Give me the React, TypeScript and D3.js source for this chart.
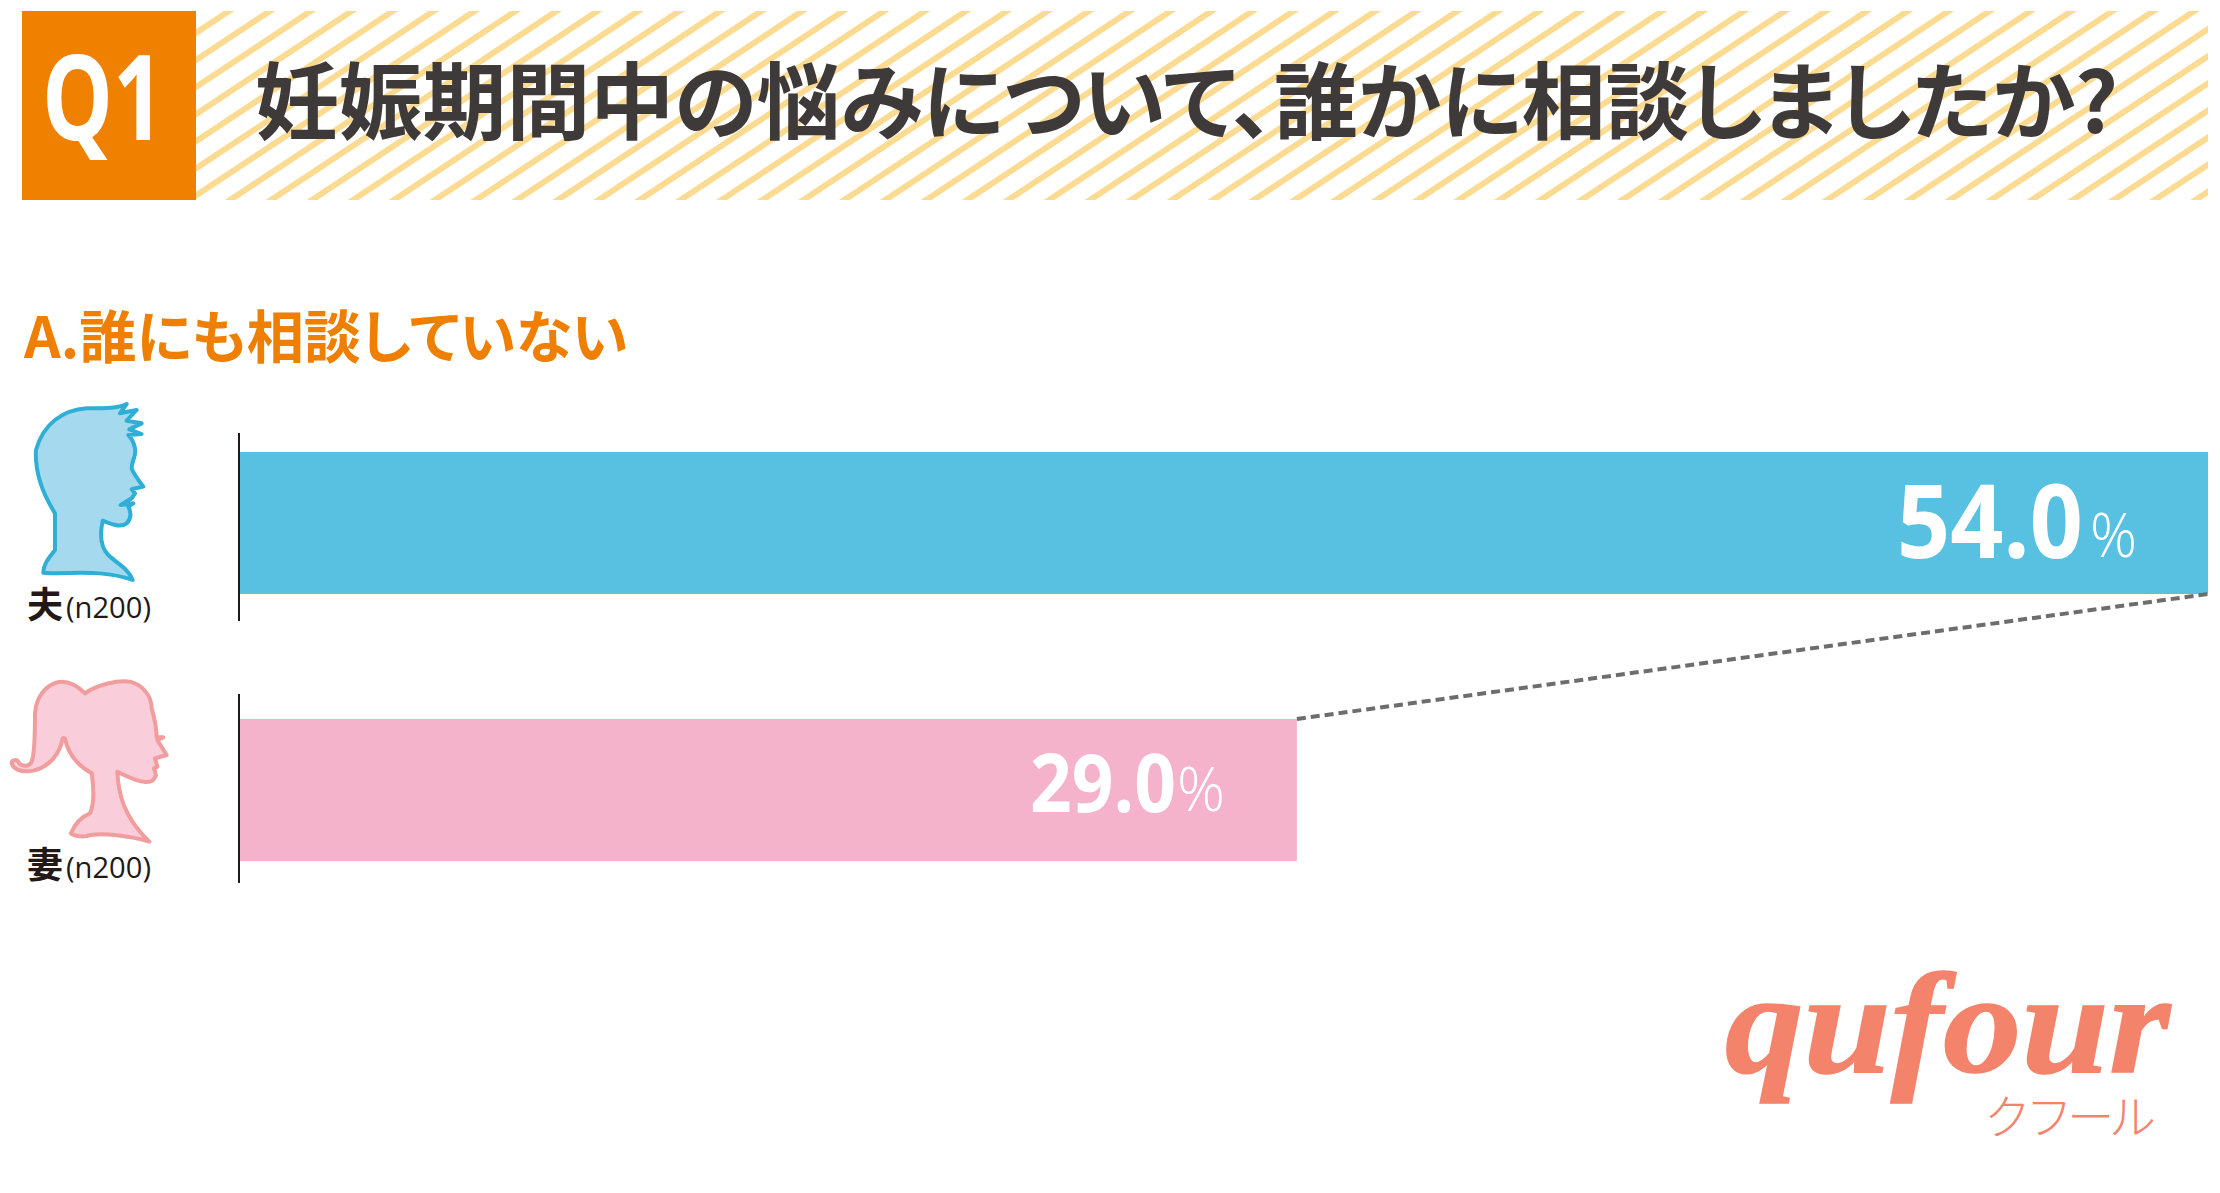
import React from "react";
import * as d3 from "d3";

const WIDTH = 2220;
const HEIGHT = 1193;

const groups = ["夫", "妻"];
const respondents = ["(n200)", "(n200)"];
const shares = [54.0, 29.0];
const barColors = ["#58c1e1", "#f4b3ca"];

const questionTag = "Q1";
const questionText = "妊娠期間中の悩みについて、誰かに相談しましたか?";
const answerText = "A.誰にも相談していない";

const jp = "'Noto Sans CJK JP', 'Noto Sans', sans-serif";
const latin = "'Open Sans', 'Noto Sans', sans-serif";

// silhouettes traced by eye, drawn at 3x and scaled down
const manPath =
  "M380 42 C355 55 320 55 260 55 C190 60 130 100 108 180 C105 230 115 290 165 370 L165 480 C150 500 130 520 130 548 C200 555 300 535 398 570 C385 535 350 520 325 495 C300 470 300 430 308 392 C330 400 360 415 380 400 C395 385 395 370 385 350 L400 340 L362 345 L395 325 L405 310 L395 298 L430 290 C415 270 400 250 395 235 C395 210 410 200 405 175 C400 150 390 140 385 135 L425 132 L388 118 L425 100 L380 92 L410 60 L360 70 Z";
const womanPath =
  "M255 100 C290 75 350 60 390 65 C430 75 455 110 455 145 C465 180 470 210 470 232 L490 232 L472 240 L500 285 L465 295 L472 320 L462 325 L468 345 C460 375 430 375 352 335 C355 400 370 470 448 545 C400 530 300 515 260 528 C240 532 215 525 213 520 C225 490 245 470 270 460 C285 430 280 370 275 340 C240 320 205 290 195 235 L188 235 C180 280 150 320 100 332 C70 338 40 330 35 310 C35 298 50 298 55 305 C60 318 85 325 95 305 C105 280 105 200 105 160 C110 90 160 65 185 65 C215 65 240 85 255 100 Z";

const x = d3.scaleLinear().domain([0, 54]).range([240, 2208]);
const y = d3.scaleBand().domain(groups).range([452, 861]).paddingInner(0.468);

export default function App() {
  const band = y.bandwidth();
  const y0 = y(groups[0]) as number;
  const y1 = y(groups[1]) as number;

  return (
    <svg
      width={WIDTH}
      height={HEIGHT}
      viewBox={`0 0 ${WIDTH} ${HEIGHT}`}
      style={{ position: "absolute", left: 0, top: 0, background: "#fff" }}
    >
      <defs>
        <pattern
          id="stripes"
          patternUnits="userSpaceOnUse"
          width={22.6}
          height={22.6}
          patternTransform="translate(229 11) rotate(-33.5)"
        >
          <rect y={0} width={22.6} height={3} fill="#fbda91" />
          <rect y={19.6} width={22.6} height={3} fill="#fbda91" />
        </pattern>
      </defs>

      {/* header */}
      <rect x={196} y={11} width={2012} height={189} fill="url(#stripes)" />
      <rect x={22} y={11} width={174} height={189} fill="#f08000" />
      <text
        x={42}
        y={140}
        fontFamily={latin}
        fontWeight={700}
        fontSize={119}
        fill="#fff"
        textLength={122}
        lengthAdjust="spacingAndGlyphs"
      >
        {questionTag}
      </text>
      <text
        x={255}
        y={133}
        fontFamily={jp}
        fontWeight={700}
        fontSize={83.8}
        fill="#3e3a39"
        style={{ fontFeatureSettings: "'palt'" }}
      >
        {questionText}
      </text>

      <text
        x={24}
        y={358}
        fontFamily={jp}
        fontWeight={700}
        fontSize={57.2}
        fill="#ee7f00"
        style={{ fontFeatureSettings: "'palt'" }}
      >
        {answerText}
      </text>

      {/* figures */}
      <g transform="translate(0 390) scale(0.3333)">
        <path d={manPath} fill="#a5d9ee" stroke="#2fafd6" strokeWidth={12} strokeLinejoin="round" />
      </g>
      <g transform="translate(0 660) scale(0.3333)">
        <path d={womanPath} fill="#f9cdda" stroke="#f19d9e" strokeWidth={12} strokeLinejoin="round" />
      </g>

      {/* bars */}
      {groups.map((g, i) => {
        const top = y(g) as number;
        return (
          <g key={g}>
            <rect x={x(0)} y={top} width={x(shares[i]) - x(0)} height={band} fill={barColors[i]} />
            <line
              x1={x(0) - 1}
              x2={x(0) - 1}
              y1={top - (i === 0 ? 19 : 25)}
              y2={top + band + (i === 0 ? 27 : 22)}
              stroke="#231815"
              strokeWidth={2}
            />
            <text x={27} y={top + band + (i === 0 ? 24 : 17)} fontFamily={jp} fontWeight={700} fontSize={36} fill="#231815">
              {g}
            </text>
            <text
              x={66}
              y={top + band + (i === 0 ? 24 : 17)}
              fontFamily={latin}
              fontWeight={400}
              fontSize={30}
              fill="#231815"
              textLength={85}
              lengthAdjust="spacingAndGlyphs"
            >
              {respondents[i]}
            </text>
          </g>
        );
      })}

      <line
        x1={x(shares[1])}
        y1={y1}
        x2={x(shares[0])}
        y2={y0 + band}
        stroke="#6d6d6d"
        strokeWidth={4}
        strokeDasharray="9 5"
      />

      {/* value labels */}
      <text x={1897} y={558} fontFamily={latin} fontWeight={700} fontSize={102} fill="#fff" textLength={186} lengthAdjust="spacingAndGlyphs">
        {shares[0].toFixed(1)}
      </text>
      <text x={2090} y={557} fontFamily={latin} fontWeight={300} fontSize={60} fill="#fff" textLength={47} lengthAdjust="spacingAndGlyphs">
        %
      </text>
      <text x={1030} y={812} fontFamily={latin} fontWeight={700} fontSize={81} fill="#fff" textLength={146} lengthAdjust="spacingAndGlyphs">
        {shares[1].toFixed(1)}
      </text>
      <text x={1177} y={811} fontFamily={latin} fontWeight={300} fontSize={60} fill="#fff" textLength={48} lengthAdjust="spacingAndGlyphs">
        %
      </text>

      {/* logo */}
      <text
        x={1725}
        y={1072}
        fontFamily="'Liberation Serif', serif"
        fontStyle="italic"
        fontWeight={700}
        fontSize={145}
        fill="#f4836b"
        stroke="#f4836b"
        strokeWidth={1.5}
        textLength={445}
        lengthAdjust="spacingAndGlyphs"
      >
        qufour
      </text>
      <text x={1984} y={1134} fontFamily={jp} fontWeight={300} fontSize={47} fill="#f4836b" textLength={172} lengthAdjust="spacing">
        クフール
      </text>
    </svg>
  );
}
